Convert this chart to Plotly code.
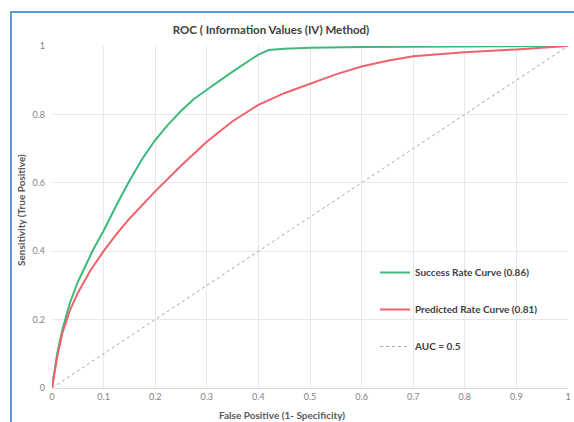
import plotly.graph_objects as go

# ---- data ----
success_fpr = [0, 0.01, 0.02, 0.035, 0.05, 0.065, 0.08, 0.1, 0.125, 0.15, 0.175, 0.2, 0.225, 0.25, 0.275, 0.3, 0.35, 0.4, 0.42, 0.45, 0.5, 0.6, 0.7, 0.8, 0.9, 1.0]
success_tpr = [0, 0.10, 0.17, 0.25, 0.31, 0.36, 0.405, 0.46, 0.535, 0.605, 0.67, 0.725, 0.77, 0.81, 0.845, 0.872, 0.925, 0.975, 0.988, 0.992, 0.995, 0.997, 0.998, 0.999, 0.999, 1.0]

predicted_fpr = [0, 0.01, 0.02, 0.035, 0.05, 0.075, 0.1, 0.125, 0.15, 0.175, 0.2, 0.25, 0.3, 0.35, 0.4, 0.45, 0.5, 0.55, 0.6, 0.65, 0.7, 0.8, 0.9, 1.0]
predicted_tpr = [0, 0.09, 0.16, 0.228, 0.278, 0.345, 0.40, 0.45, 0.495, 0.535, 0.575, 0.65, 0.72, 0.78, 0.828, 0.862, 0.89, 0.917, 0.94, 0.957, 0.97, 0.982, 0.99, 1.0]

diag_x = [0, 1]
diag_y = [0, 1]

x_ticks = [0, 0.1, 0.2, 0.3, 0.4, 0.5, 0.6, 0.7, 0.8, 0.9, 1]
x_tick_labels = ["0", "0.1", "0.2", "0.3", "0.4", "0.5", "0.6", "0.7", "0.8", "0.9", "1"]
y_ticks = [0, 0.2, 0.4, 0.6, 0.8, 1]
y_tick_labels = ["0", "0.2", "0.4", "0.6", "0.8", "1"]

title_text = "ROC ( Information Values (IV) Method)"
x_title = "False Positive (1- Specificity)"
y_title = "Sensitivity (True Positive)"
names = ["Success Rate Curve (0.86)", "Predicted Rate Curve (0.81)", "AUC = 0.5"]

FONT = "Lato, 'Open Sans', sans-serif"

fig = go.Figure()
fig.add_trace(go.Scatter(x=success_fpr, y=success_tpr, mode="lines", name="<b>" + names[0] + "</b>",
                         legendgroup="a", line=dict(color="#3dba7a", width=2)))
fig.add_trace(go.Scatter(x=predicted_fpr, y=predicted_tpr, mode="lines", name="<b>" + names[1] + "</b>",
                         legendgroup="b", line=dict(color="#f0626b", width=2)))
fig.add_trace(go.Scatter(x=diag_x, y=diag_y, mode="lines", name="<b>" + names[2] + "</b>",
                         legendgroup="c", line=dict(color="#a6a6a6", width=1, dash="dot")))

L, R, T, B = 52, 6, 46, 34
W, H = 574, 422
pw, ph = W - L - R, H - T - B

fig.update_layout(
    width=W, height=H,
    margin=dict(l=L, r=R, t=T, b=B, autoexpand=False),
    paper_bgcolor="white", plot_bgcolor="white",
    font=dict(family=FONT, size=9, color="#595959"),
    title=dict(text="<b>" + title_text + "</b>", x=271 / W, xref="container", xanchor="center",
               y=1 - 30 / H, yref="container", yanchor="middle",
               font=dict(family=FONT, size=11.5, color="#404040")),
    showlegend=True,
    legend=dict(x=(375 - L) / pw, xanchor="left", y=1 - (258 - T) / ph, yanchor="top",
                bgcolor="rgba(0,0,0,0)", tracegroupgap=18,
                font=dict(family=FONT, size=10, color="#404040"), itemwidth=30),
    xaxis=dict(range=[0, 1], tickvals=x_ticks, ticktext=x_tick_labels, showgrid=True,
               gridcolor="#e8e8e8", gridwidth=1, zeroline=False, showline=True, automargin=False,
               linecolor="#d9d9d9", ticks="", tickfont=dict(size=9, color="#7f7f7f")),
    yaxis=dict(range=[0, 1.0], tickvals=y_ticks, ticktext=y_tick_labels, showgrid=True,
               gridcolor="#e8e8e8", gridwidth=1, zeroline=False, showline=False, automargin=False,
               ticks="", ticklabelstandoff=6, tickfont=dict(size=9, color="#7f7f7f")),
    annotations=[
        dict(text="<b>" + x_title + "</b>", xref="paper", yref="paper",
             x=(282 - L) / pw, y=-(415 - (H - B)) / ph, xanchor="center", yanchor="middle",
             showarrow=False, font=dict(family=FONT, size=10, color="#595959")),
        dict(text="<b>" + y_title + "</b>", xref="paper", yref="paper",
             x=(21 - L) / pw, y=1 - (210 - T) / ph, xanchor="center", yanchor="middle",
             textangle=-90, showarrow=False, font=dict(family=FONT, size=10, color="#595959")),
    ],
    shapes=[
        dict(type="rect", xref="paper", yref="paper",
             x0=(11 - L) / pw, x1=(590 - L) / pw, y0=-(450 - (H - B)) / ph, y1=1 + (T - 12) / ph,
             line=dict(color="#5b9bd5", width=2), fillcolor="rgba(0,0,0,0)", layer="above"),
    ],
)

fig.write_html("out.html", config={"displayModeBar": False},
               post_script="document.body.style.margin='0';document.body.style.overflow='hidden';")
